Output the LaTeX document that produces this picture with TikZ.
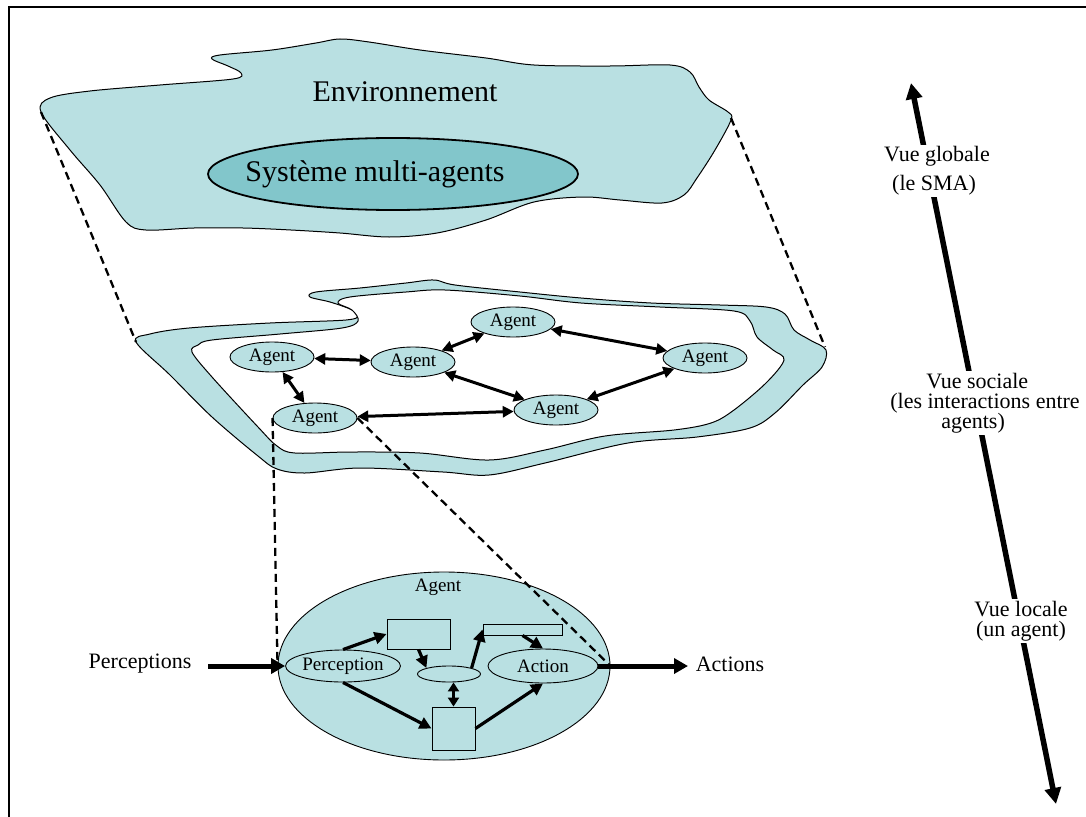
\documentclass[tikz,border=0pt]{standalone}
\usepackage{fontspec}
\setmainfont{Liberation Serif}
\usetikzlibrary{arrows.meta,shapes.geometric}
\definecolor{envfill}{HTML}{B9E0E2}
\definecolor{smafill}{HTML}{82C6CB}
\begin{document}
\begin{tikzpicture}[x=1pt,y=-1pt,
  blob/.style={draw=black,line width=1pt,fill=envfill},
  hole/.style={draw=black,line width=1pt,fill=white},
  agentnode/.style={ellipse,draw,line width=0.9pt,fill=envfill,minimum width=84pt,minimum height=30pt,inner sep=0pt,font=\fontsize{19}{22}\selectfont},
  inell/.style={ellipse,draw,line width=0.9pt,fill=envfill,inner sep=0pt,font=\fontsize{19}{22}\selectfont},
  inbox/.style={rectangle,draw,line width=0.9pt,fill=envfill,inner sep=0pt},
  link/.style={line width=3pt,{Triangle[length=11pt,width=11pt]}-{Triangle[length=11pt,width=11pt]}},
  flow/.style={line width=3.2pt,-{Triangle[length=12pt,width=12pt]}},
  bigflow/.style={line width=5pt,-{Triangle[length=14pt,width=15pt]}},
  proj/.style={line width=2.3pt,dash pattern=on 8pt off 5pt},
  lbl/.style={font=\fontsize{22}{20}\selectfont,inner sep=1pt},
  vlbl/.style={font=\fontsize{22}{20}\selectfont,fill=white,inner sep=2pt}
]
\useasboundingbox (0,0) rectangle (1086,816);
\fill[white] (0,0) rectangle (1086,816);
% frame
\draw[line width=2pt] (9,830) -- (9,7) -- (1100,7);

% environment blob
\draw[blob] plot[smooth cycle,tension=0.55] coordinates {
 (41,112) (50,98) (90,91) (160,85) (233,79) (241,73) (228,66) (212,59) (220,55)
 (272,50) (316,43) (340,39) (369,42) (420,50) (486,58) (534,65) (610,66) (670,65)
 (690,72) (699,87) (709,100) (728,112) (731,120) (715,150) (697,178) (684,195)
 (662,203) (620,200) (583,197) (534,202) (486,220) (437,233) (389,237) (340,233)
 (291,230) (243,228) (194,228) (146,230) (126,222) (100,185) (70,150)};
\node[ellipse,draw,line width=1.8pt,fill=smafill,minimum width=370pt,minimum height=72pt,inner sep=0pt] (sma) at (393,174) {};
\node[font=\fontsize{30}{34}\selectfont,inner sep=0pt] (smatxt) at (375,174) {Système multi-agents};
\node[font=\fontsize{30}{34}\selectfont,inner sep=0pt] (envtxt) at (405,92) {Environnement};

\coordinate (envL) at (41,112);
\coordinate (envR) at (731,118);

% middle ring
\draw[blob] plot[smooth cycle,tension=0.55] coordinates {
 (136,342) (150,334) (189,328) (270,323) (346,320) (358,315) (350,309) (330,302)
 (310,297) (316,292) (360,288) (406,283) (434,280) (455,285) (520,292) (581,298)
 (651,303) (720,305) (766,307) (785,314) (794,330) (810,340) (826,350) (822,367)
 (803,385) (775,413) (750,428) (697,437) (628,443) (545,463) (489,475) (443,472)
 (360,468) (305,473) (277,469) (258,456) (212,417) (170,375)};
\draw[hole] plot[smooth cycle,tension=0.55] coordinates {
 (192,352) (198,345) (212,340) (280,334) (342,328) (358,321) (352,310) (338,303)
 (350,297) (406,292) (445,290) (520,296) (581,303) (660,307) (734,311) (750,321)
 (757,337) (773,350) (784,360) (766,383) (734,410) (711,423) (674,430) (605,436)
 (545,450) (489,460) (420,453) (351,452) (295,453) (277,446) (258,427) (212,377)};
\coordinate (ringL) at (136,342);
\coordinate (ringR) at (825,347);

\draw[proj] (envL) -- (ringL);
\draw[proj] (envR) -- (ringR);

% agents
\node[agentnode] (A1) at (272,357) {Agent};
\node[agentnode] (A2) at (413,362) {Agent};
\node[agentnode] (A3) at (513,322) {Agent};
\node[agentnode] (A4) at (705,358) {Agent};
\node[agentnode] (A5) at (556,410) {Agent};
\node[agentnode] (A6) at (315,418) {Agent};

\draw[link] (A1) -- (A2);
\draw[link] (A2) -- (A3);
\draw[link] (A3) -- (A4);
\draw[link] (A2) -- (A5);
\draw[link] (A5) -- (A4);
\draw[link] (A1) -- (A6);
\draw[link] (A6) -- (A5);

% bottom agent
\node[ellipse,draw,line width=0.9pt,fill=envfill,minimum width=332pt,minimum height=188pt,inner sep=0pt] (bigA) at (444,666) {};
\node[font=\fontsize{19}{22}\selectfont,inner sep=0pt] (bigAtxt) at (438,587) {Agent};
\node[inell,minimum width=110pt,minimum height=32pt] (perc) at (343,666) {Perception};
\node[inell,minimum width=110pt,minimum height=34pt] (act) at (543,666) {Action};
\node[inell,minimum width=63pt,minimum height=16pt] (sm) at (449,674) {};
\node[inbox,minimum width=63pt,minimum height=30pt] (box1) at (418.5,634) {};
\node[inbox,minimum width=79pt,minimum height=11pt] (box3) at (522.5,629.5) {};
\node[inbox,minimum width=43pt,minimum height=43pt] (box2) at (453.5,728.5) {};

\draw[flow] (perc.north) -- (box1.west);
\draw[flow] (box1.south) -- (sm.north west);
\draw[flow] (sm.north east) -- (box3.west);
\draw[flow] (box3.south) -- (act.north);
\draw[flow] (perc.south) -- (box2.west);
\draw[flow] (box2.east) -- (act.south);
\draw[line width=3.2pt,{Triangle[length=9pt,width=11pt]}-{Triangle[length=9pt,width=11pt]}] (box2.north |- sm.south) -- (box2.north);

% projection lines to the single agent
\draw[proj] (A6.west) -- (bigA.west);
\draw[proj] (A6.east) -- (bigA.east);

% perceptions / actions
\node[lbl] (percs) at (140,664) {Perceptions};
\node[lbl] (acts) at (730,664) {Actions};
\coordinate (inStart) at (208,666);
\coordinate (outEnd) at (688,666);
\draw[bigflow] (inStart) -- (perc.west);
\draw[bigflow] (act.east) -- (outEnd);

% right scale arrow
\coordinate (vtop) at (911,83);
\coordinate (vbot) at (1056,804);
\draw[line width=5.5pt,{Triangle[length=16pt,width=16pt]}-{Triangle[length=16pt,width=16pt]}] (vtop) -- (vbot);
\node[vlbl,align=left] (vg) at (937,171) {Vue globale\\[8pt]\hspace*{8pt}(le SMA)};
\node[vlbl,align=left] (vs) at (985,403) {\hspace*{36pt}Vue sociale\\(les interactions entre\\\hspace*{51pt}agents)};
\node[vlbl,align=center] (vl) at (1021,621) {Vue locale\\(un agent)};
\end{tikzpicture}
\end{document}
